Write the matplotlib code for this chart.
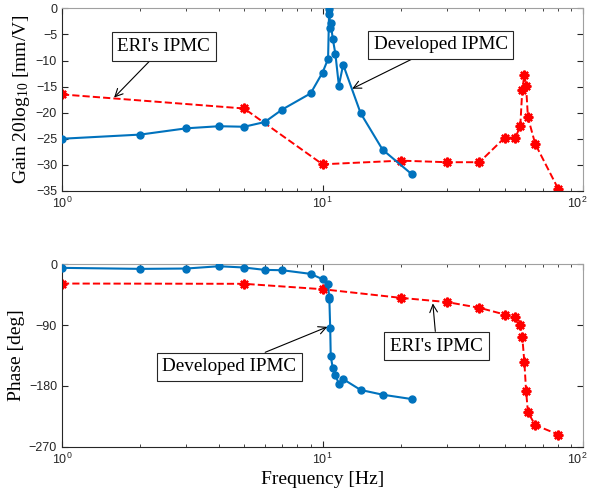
import numpy as np
import matplotlib
matplotlib.use("Agg")
import matplotlib.pyplot as plt
import matplotlib.transforms as mtrans

plt.rcParams['mathtext.fontset'] = 'custom'
plt.rcParams['mathtext.rm'] = 'Liberation Serif'
plt.rcParams['mathtext.it'] = 'Liberation Serif:italic'
plt.rcParams['font.family'] = 'Liberation Sans'

# Developed IPMC
dev_freq = [1, 2, 3, 4, 5, 6, 7, 9, 10, 10.5, 10.6, 10.62, 10.7, 10.75,
            10.95, 11.2, 11.55, 12, 14, 17, 22]
dev_gain = [-25.0, -24.2, -23.0, -22.6, -22.7, -21.8, -19.4, -16.3, -12.3,
            -9.7, -0.2, -1.0, -3.8, -2.9, -5.9, -8.7, -14.8, -10.8, -20.1,
            -27.1, -31.8]
dev_phase = [-5.4, -6.9, -6.4, -3.0, -4.9, -8.4, -8.9, -14.3, -22.2, -28.6,
             -49, -52, -95, -136, -154, -164, -177, -170, -186, -193, -199.5]

# ERI's IPMC
eri_freq = [1, 5, 10, 20, 30, 40, 50, 55, 57.4, 58.4, 59.5, 60.4, 61.4,
            65.5, 80.4]
eri_gain = [-16.5, -19.2, -29.9, -29.2, -29.5, -29.5, -24.8, -24.8, -22.5,
            -15.7, -12.7, -14.8, -20.9, -26.0, -34.7]
eri_phase = [-28.6, -29, -37, -49.8, -56, -64.5, -74.4, -77.8, -90, -107,
             -145, -187, -219, -238, -252]

BLUE = '#0072BD'
AXC = '#262626'
serif = 'Liberation Serif'

fig = plt.figure(figsize=(5.92, 4.92), dpi=100)
ax1 = fig.add_axes([0.1047, 0.612, 0.8803, 0.371])
ax2 = fig.add_axes([0.1047, 0.092, 0.8803, 0.371])

for ax, dev, eri in [(ax1, dev_gain, eri_gain), (ax2, dev_phase, eri_phase)]:
    ax.plot(dev_freq, dev, '-o', color=BLUE, lw=1.5, ms=5, zorder=3)
    ax.plot(eri_freq, eri, '--', color='red', lw=1.4, zorder=2,
            marker=(8, 2, 0), ms=7, mew=1.6)
    ax.set_xscale('log')
    ax.set_xlim(1, 100)
    ax.tick_params(which='both', direction='in', top=True, right=True,
                   labelsize=9, colors=AXC, length=4)
    ax.tick_params(which='minor', length=2.5)
    for s in ax.spines.values():
        s.set_color(AXC)
        s.set_linewidth(0.8)
    for s in ['top', 'right']:
        ax.spines[s].set_color('#a0a0a0')

ax1.set_ylim(-35, 0)
ax1.set_yticks(np.arange(-35, 1, 5))
ax2.set_ylim(-270, 0)
ax2.set_yticks([-270, -180, -90, 0])

# nudge the 10^2 label a little left so it stays inside the figure
fig.canvas.draw()
for ax in (ax1, ax2):
    lbl = [t for t in ax.get_xticklabels() if t.get_position()[0] == 100]
    for t in lbl:
        t.set_transform(t.get_transform() + mtrans.ScaledTranslation(
            -4 / 72, 0, fig.dpi_scale_trans))

ax1.set_ylabel('Gain 20log$_{10}$ [mm/V]', fontsize=14, family=serif,
               labelpad=3)
ax2.set_ylabel('Phase [deg]', fontsize=14, family=serif, labelpad=3)
ax2.set_xlabel('Frequency [Hz]', fontsize=14, family=serif, labelpad=3)

bbox = dict(boxstyle='square,pad=0.3', fc='white', ec=AXC, lw=0.8)
arrow = dict(arrowstyle='->', color='black', lw=0.8, shrinkA=0, shrinkB=0)

ax1.annotate("ERI's IPMC", xy=(1.585, -17.1), xytext=(2.46, -7.3),
             fontsize=13.8, family=serif, ha='center', va='center',
             bbox=bbox, arrowprops=arrow)
ax1.annotate('Developed IPMC', xy=(13.0, -15.4), xytext=(28.4, -7.0),
             fontsize=13.8, family=serif, ha='center', va='center',
             bbox=bbox, arrowprops=arrow)
ax2.annotate('Developed IPMC', xy=(10.43, -92.7), xytext=(4.39, -152),
             fontsize=13.8, family=serif, ha='center', va='center',
             bbox=bbox, arrowprops=arrow)
ax2.annotate("ERI's IPMC", xy=(26.5, -58), xytext=(27.4, -121),
             fontsize=13.8, family=serif, ha='center', va='center',
             bbox=bbox, arrowprops=arrow)

fig.savefig('out.png', dpi=100)
